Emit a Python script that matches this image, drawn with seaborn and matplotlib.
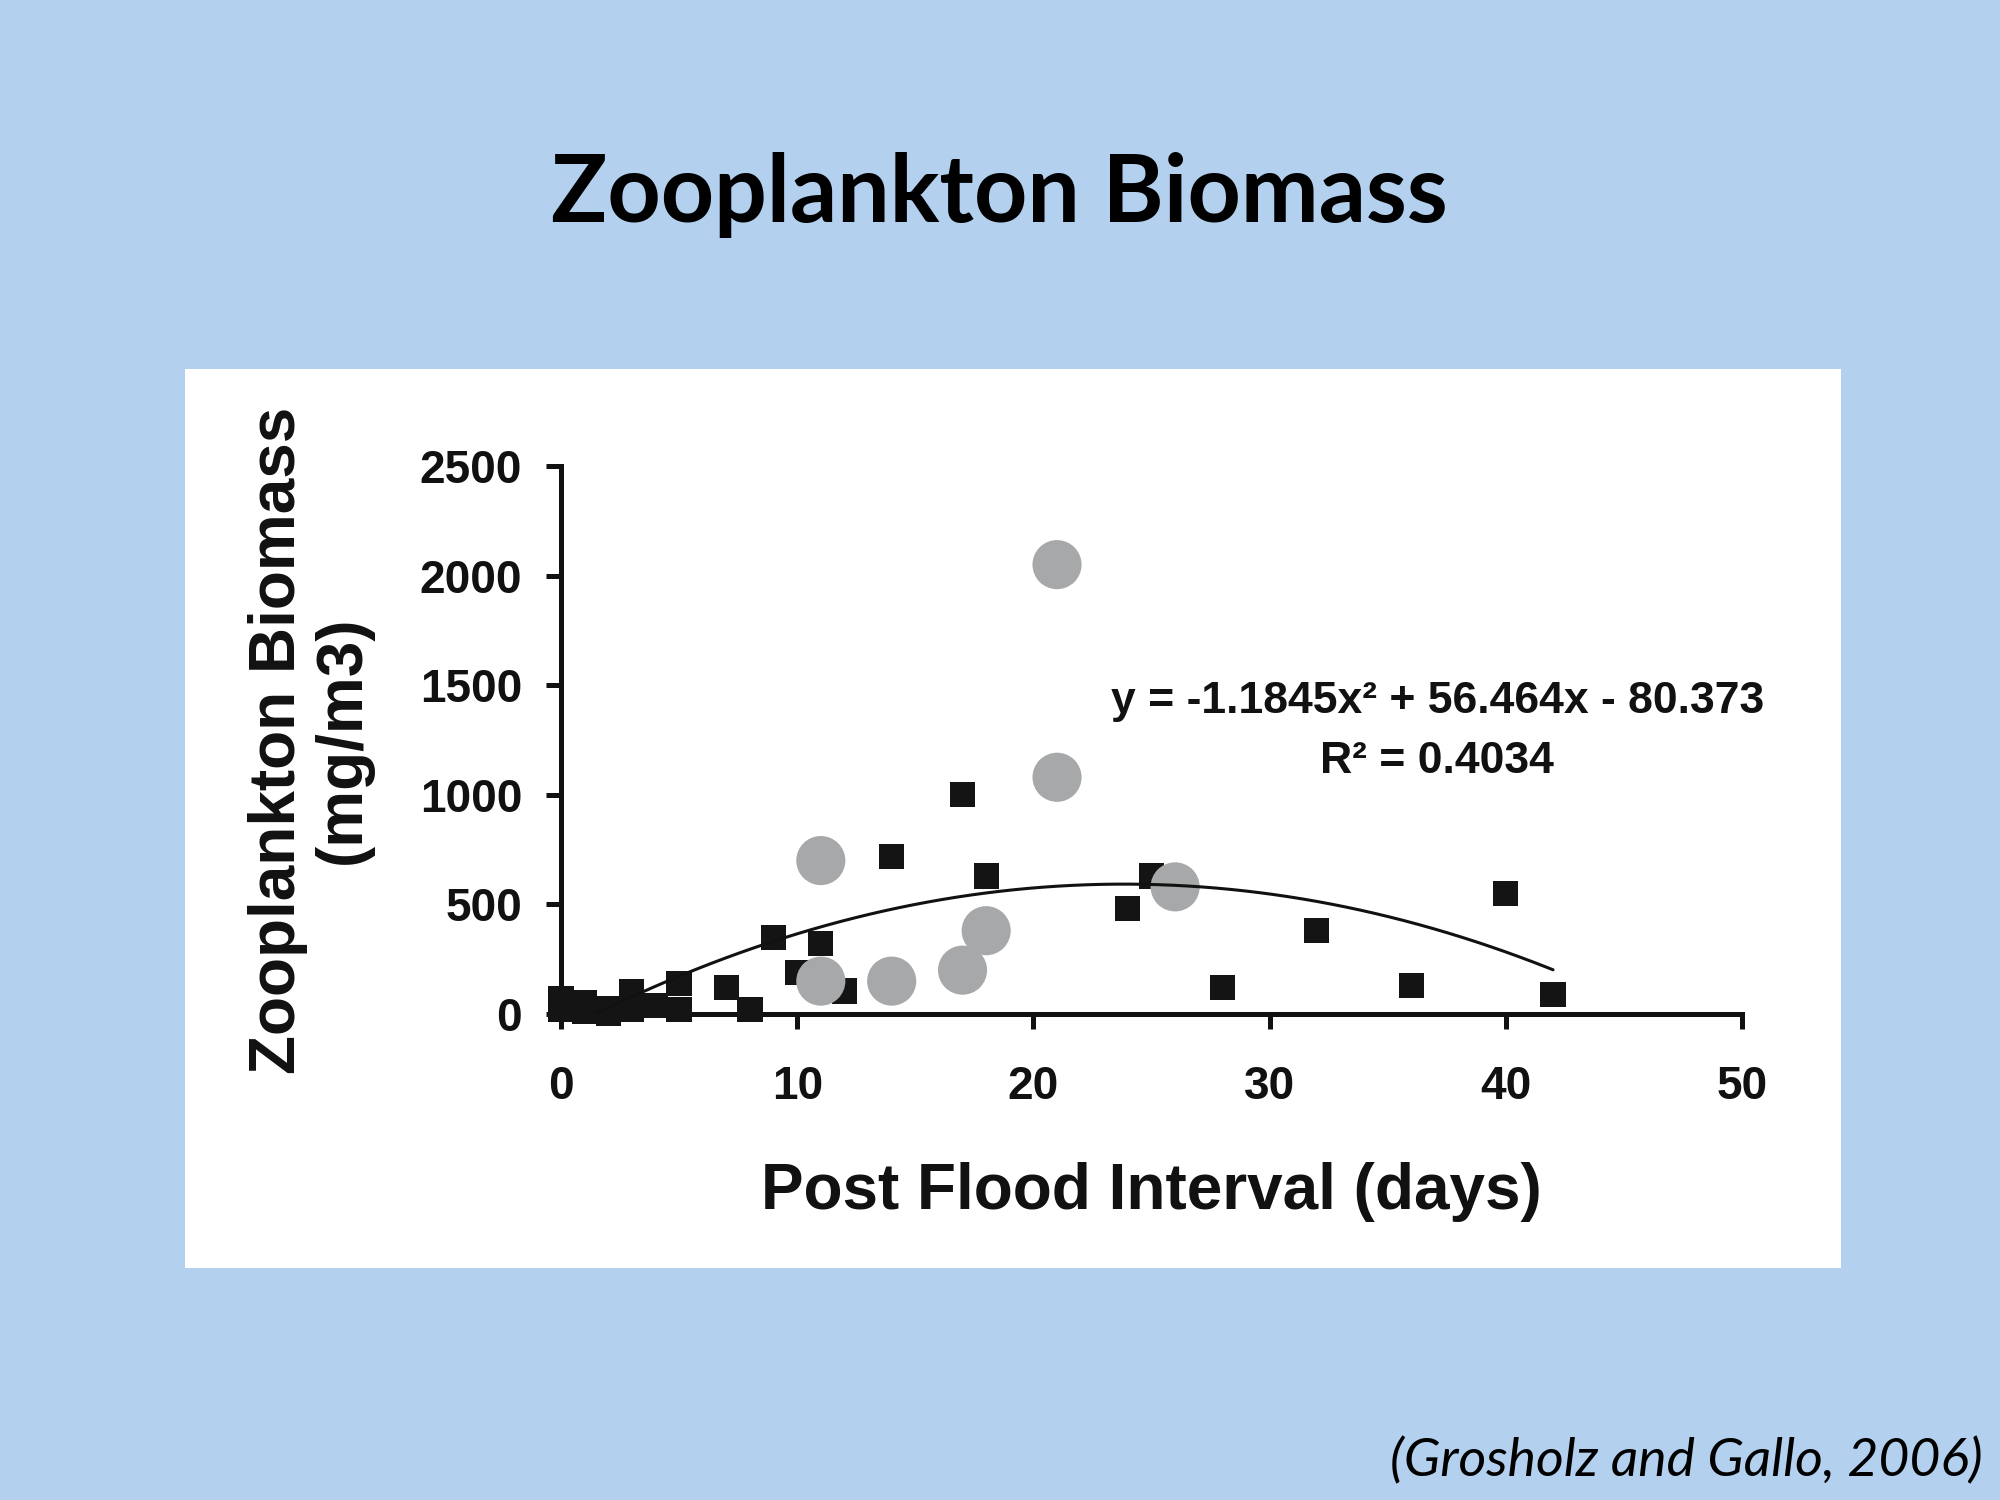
import numpy as np
import pandas as pd
import matplotlib
matplotlib.use("Agg")
import matplotlib.pyplot as plt
import seaborn as sns
from matplotlib.patches import Rectangle

# ---- data ----
square_x = [0, 0, 0.5, 1, 1, 2, 2, 3, 3, 4, 5, 5, 7, 8, 9, 10, 11, 12, 14, 17, 18, 24, 25, 28, 32, 36, 40, 42]
square_y = [70, 20, 40, 50, 10, 25, 5, 100, 20, 40, 140, 20, 120, 20, 350, 190, 320, 105, 720, 1000, 630, 480, 630, 120, 380, 130, 550, 90]
circle_x = [11, 11, 14, 17, 18, 21, 21, 26]
circle_y = [700, 150, 150, 200, 380, 1080, 2050, 580]
fit_coef = [-1.1845, 56.464, -80.373]
fit_range = [1.45, 42]
x_ticks = [0, 10, 20, 30, 40, 50]
y_ticks = [0, 500, 1000, 1500, 2000, 2500]

title = "Zooplankton Biomass"
x_label = "Post Flood Interval (days)"
y_label = "Zooplankton Biomass\n(mg/m3)"
eq_text = "y = -1.1845x\u00b2 + 56.464x - 80.373\nR\u00b2 = 0.4034"
citation = "(Grosholz and Gallo, 2006)"

sns.set_style("white")
plt.rcParams['font.family'] = ['Liberation Sans', 'DejaVu Sans']

BG = "#B3D0EE"
fig = plt.figure(figsize=(20, 15), dpi=100, facecolor=BG)

# white panel
panel = Rectangle((185 / 2000, 1 - 1268 / 1500), (1841 - 185) / 2000, (1268 - 369) / 1500,
                  transform=fig.transFigure, facecolor="white", edgecolor="none")
panel.set_zorder(-10)
fig.add_artist(panel)

ax = fig.add_axes([561 / 2000, 1 - 1014 / 1500, (1742 - 561) / 2000, (1014 - 466) / 1500])
ax.set_zorder(5)
ax.set_facecolor("none")

sq = pd.DataFrame({"x": square_x, "y": square_y})
ci = pd.DataFrame({"x": circle_x, "y": circle_y})
xf = np.linspace(fit_range[0], fit_range[1], 200)
fit = pd.DataFrame({"x": xf, "y": np.polyval(fit_coef, xf)})

sns.scatterplot(data=sq, x="x", y="y", marker="s", s=330, color="#141414", edgecolor="none",
                ax=ax, zorder=3, clip_on=False)
sns.scatterplot(data=ci, x="x", y="y", marker="o", s=1250, color="#A6A8A9", edgecolor="none",
                ax=ax, zorder=4, clip_on=False)
sns.lineplot(data=fit, x="x", y="y", color="#111111", linewidth=2.2, ax=ax, zorder=5)

ax.set_xlim(0, 50)
ax.set_ylim(0, 2500)
ax.set_xticks(x_ticks)
ax.set_yticks(y_ticks)
sns.despine(ax=ax)
for s in ["left", "bottom"]:
    ax.spines[s].set_linewidth(3.6)
    ax.spines[s].set_color("#111111")
ax.tick_params(axis="both", which="major", direction="out", length=11, width=3.6, color="#111111",
               labelsize=33, labelcolor="#111111", bottom=True, left=True)
ax.tick_params(axis="y", pad=17)
ax.tick_params(axis="x", pad=26)
for lab in ax.get_xticklabels() + ax.get_yticklabels():
    lab.set_fontweight("bold")

ax.set_xlabel(x_label, fontsize=46, fontweight="bold", color="#111111", labelpad=38)
ax.set_ylabel(y_label, fontsize=46, fontweight="bold", color="#111111", labelpad=34, linespacing=1.1)

ax.text(37.1, 1290, eq_text, ha="center", va="center", fontsize=32, color="#111111",
        family=['Liberation Sans Narrow', 'Liberation Sans', 'DejaVu Sans'], fontweight="bold",
        linespacing=1.6)

fig.text(0.4995, 1 - 195 / 1500, title, ha="center", va="center", fontsize=67, fontweight="bold",
         family=['Lato', 'DejaVu Sans'], color="black")
fig.text(1983 / 2000, 1 - 1461 / 1500, citation, ha="right", va="center", fontsize=38.5, style="italic",
         family=['Lato', 'DejaVu Sans'], color="black")

fig.savefig("out.png", dpi=100, facecolor=BG)
